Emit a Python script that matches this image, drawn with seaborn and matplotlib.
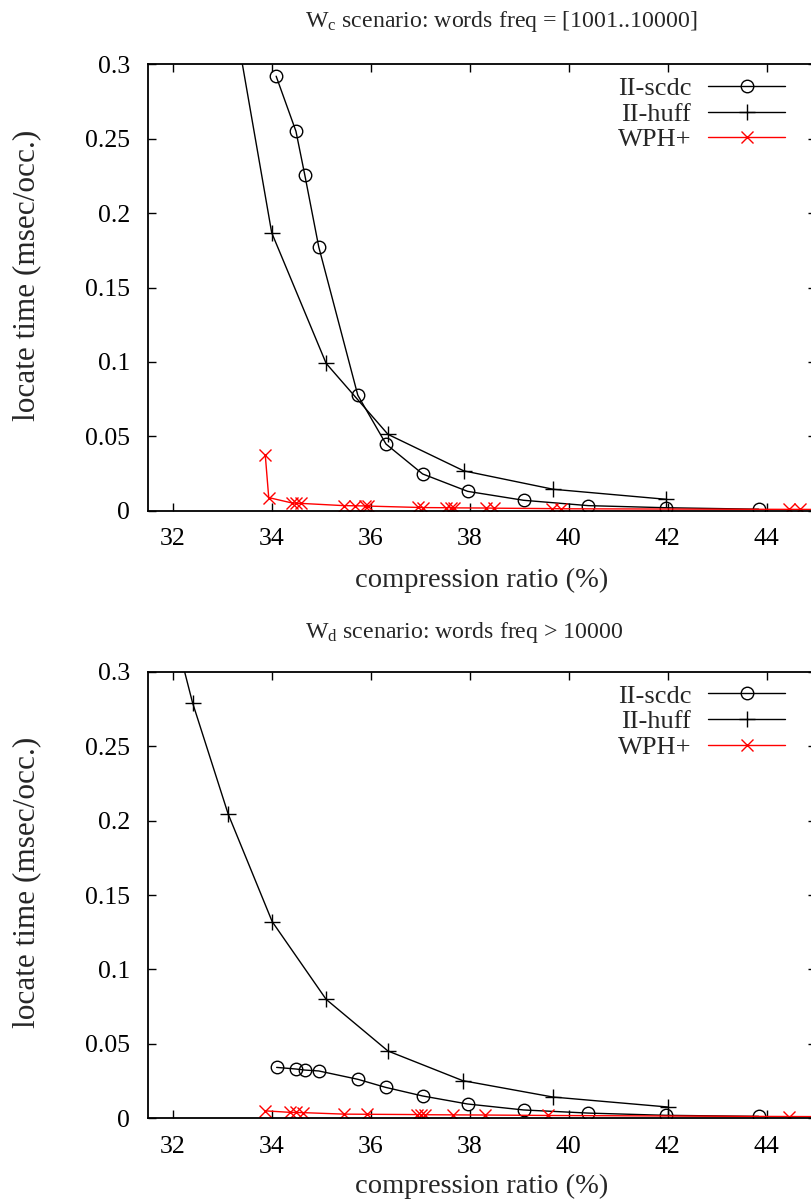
import matplotlib
matplotlib.use("Agg")
import matplotlib.pyplot as plt
import seaborn as sns
import pandas as pd

# ---------------- data ----------------
# Scenario Wc (top)
scdc_c_x = [34.09, 34.49, 34.67, 34.95, 35.74, 36.31, 37.05, 37.96, 39.09, 40.40, 41.96, 43.84]
scdc_c_y = [0.292, 0.255, 0.2254, 0.1774, 0.0776, 0.0448, 0.0247, 0.0130, 0.0070, 0.0034, 0.0020, 0.0010]
huff_c_x = [32.35, 33.12, 34.00, 35.10, 36.35, 37.88, 39.69, 41.96]
huff_c_y = [0.480, 0.355, 0.1868, 0.0990, 0.0513, 0.0268, 0.0144, 0.0077]
wph_c_x = [33.87, 33.94, 34.41, 34.50, 34.60, 35.46, 35.68, 35.88, 35.95, 36.95, 37.05,
           37.52, 37.62, 37.68, 38.33, 38.50, 39.67, 39.84, 44.45, 44.68, 45.30]
wph_c_y = [0.0374, 0.0088, 0.0052, 0.0050, 0.0049, 0.0034, 0.0033, 0.0032, 0.0031, 0.0022, 0.0021,
           0.0020, 0.0020, 0.0019, 0.0018, 0.0017, 0.0014, 0.0013, 0.0009, 0.0009, 0.0008]

# Scenario Wd (bottom)
scdc_d_x = [34.10, 34.49, 34.67, 34.95, 35.74, 36.30, 37.05, 37.96, 39.09, 40.40, 41.96, 43.84]
scdc_d_y = [0.0342, 0.0331, 0.0324, 0.0318, 0.0262, 0.0208, 0.0150, 0.0096, 0.0056, 0.0035, 0.0020, 0.0013]
huff_d_x = [31.70, 32.40, 33.12, 34.01, 35.10, 36.35, 37.86, 39.68, 42.00]
huff_d_y = [0.370, 0.2792, 0.2044, 0.1321, 0.0799, 0.0452, 0.0253, 0.0143, 0.0076]
wph_d_x = [33.87, 34.37, 34.50, 34.64, 35.46, 35.93, 36.94, 37.02, 37.10, 37.66, 38.32, 39.58, 44.45, 45.30]
wph_d_y = [0.0050, 0.0040, 0.0039, 0.0038, 0.0028, 0.0027, 0.0025, 0.0025, 0.0024, 0.0023, 0.0022, 0.0019, 0.0012, 0.0011]

series_names = ["II-scdc", "II-huff", "WPH+"]
titles = [r"W$_{\rm c}$ scenario: words freq = [1001..10000]",
          r"W$_{\rm d}$ scenario: words freq > 10000"]
x_label = "compression ratio (%)"
y_label = "locate time (msec/occ.)"
x_ticks = [32, 34, 36, 38, 40, 42, 44]
y_ticks = [0, 0.05, 0.1, 0.15, 0.2, 0.25, 0.3]
y_tick_labels = ["0", "0.05", "0.1", "0.15", "0.2", "0.25", "0.3"]

# ---------------- style ----------------
sns.set_style("ticks")
plt.rcParams["font.family"] = ["Liberation Serif", "DejaVu Serif"]
plt.rcParams["mathtext.fontset"] = "custom"
plt.rcParams["mathtext.rm"] = "Liberation Serif"
plt.rcParams["mathtext.it"] = "Liberation Serif:italic"
FS_TICK = 18.5
FS_XLAB = 20.5
FS_YLAB = 22.5
FS_TITLE = 17.2
FS_LEG = 19

W, H = 811, 1203
fig = plt.figure(figsize=(W / 100, H / 100), dpi=100)

def frac_axes(left_px, top_px, right_px, bottom_px):
    return fig.add_axes([left_px / W, 1 - bottom_px / H,
                         (right_px - left_px) / W, (bottom_px - top_px) / H])

panels = [
    (frac_axes(148, 64.3, 816, 510.7), (scdc_c_x, scdc_c_y), (huff_c_x, huff_c_y), (wph_c_x, wph_c_y),
     27, 587, 275),
    (frac_axes(148, 671.7, 816, 1118.3), (scdc_d_x, scdc_d_y), (huff_d_x, huff_d_y), (wph_d_x, wph_d_y),
     638, 1193, 882),
]

for i, (ax, scdc, huff, wph, title_y, xlab_y, ylab_y) in enumerate(panels):
    df_s = pd.DataFrame({"x": scdc[0], "y": scdc[1]})
    df_h = pd.DataFrame({"x": huff[0], "y": huff[1]})
    df_w = pd.DataFrame({"x": wph[0], "y": wph[1]})
    sns.lineplot(data=df_s, x="x", y="y", ax=ax, sort=False, estimator=None,
                 color="black", linewidth=1.0, marker="o", markersize=9,
                 markerfacecolor="none", markeredgecolor="black", markeredgewidth=1.0,
                 label=series_names[0])
    sns.lineplot(data=df_h, x="x", y="y", ax=ax, sort=False, estimator=None,
                 color="black", linewidth=1.0, marker="+", markersize=11,
                 markeredgecolor="black", markeredgewidth=1.0,
                 label=series_names[1])
    sns.lineplot(data=df_w, x="x", y="y", ax=ax, sort=False, estimator=None,
                 color="#ff0000", linewidth=1.0, marker="x", markersize=9,
                 markeredgecolor="#ff0000", markeredgewidth=1.0,
                 label=series_names[2])

    ax.set_xlim(31.5, 45.0)
    ax.set_ylim(0, 0.3)
    ax.set_xticks(x_ticks)
    ax.set_yticks(y_ticks)
    ax.set_yticklabels(y_tick_labels)
    ax.tick_params(direction="in", length=6, width=1.0, top=True, right=True,
                   labelsize=FS_TICK, colors="black")
    ax.tick_params(axis="x", pad=12.5)
    ax.tick_params(axis="y", pad=13)
    for sp in ax.spines.values():
        sp.set_visible(True)
        sp.set_linewidth(1.3)
        sp.set_color("black")
    ax.set_xlabel("")
    ax.set_ylabel("")
    fig.text(27 / W, 1 - ylab_y / H, y_label, rotation=90, ha="center", va="center",
             fontsize=FS_YLAB)
    fig.text(482 / W, 1 - xlab_y / H, x_label, ha="center", va="baseline", fontsize=FS_XLAB)
    fig.text(305 / W, 1 - title_y / H, titles[i], ha="left", va="baseline", fontsize=FS_TITLE)

    handles, labels = ax.get_legend_handles_labels()
    ax.legend(handles, labels, loc="upper right",
              bbox_to_anchor=((785 - 148) / 668, 0.972),
              frameon=False, markerfirst=False, handlelength=2.9,
              handletextpad=0.65, labelspacing=0.08, borderpad=0,
              borderaxespad=0, fontsize=FS_LEG, numpoints=1)

fig.savefig("out.png", dpi=100)
